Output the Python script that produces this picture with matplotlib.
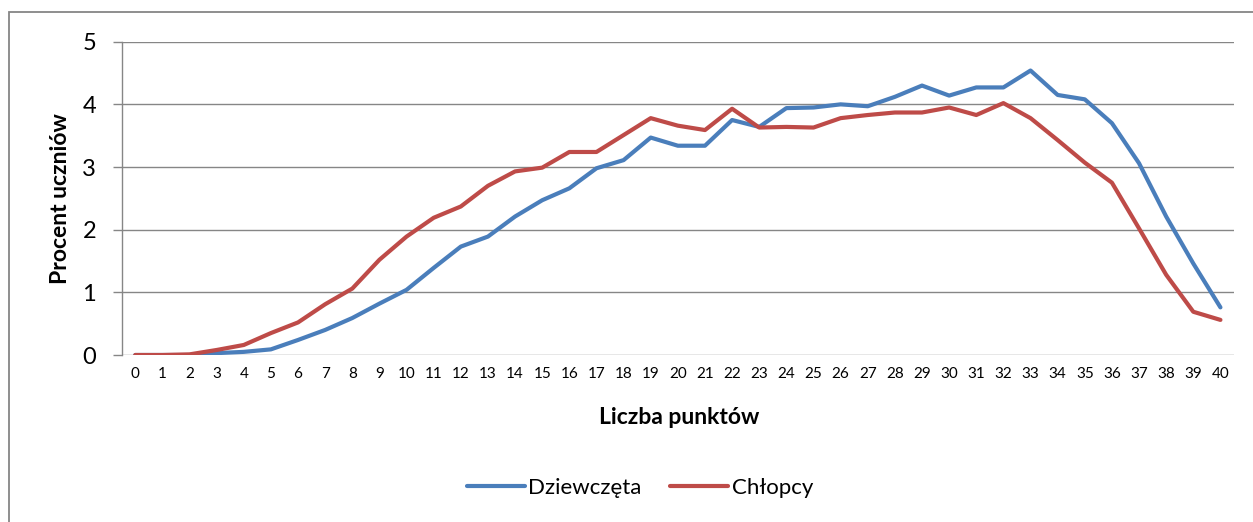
import numpy as np
import matplotlib
matplotlib.use("Agg")
import matplotlib.pyplot as plt
from matplotlib.patches import Rectangle

plt.rcParams['font.family'] = ['Lato', 'DejaVu Sans']

# points 0..40
punkty = list(range(0, 41))
dziewczeta = [0.00, 0.00, 0.00, 0.03, 0.05, 0.09, 0.24, 0.40, 0.59, 0.82,
              1.04, 1.39, 1.73, 1.89, 2.21, 2.47, 2.66, 2.98, 3.11, 3.47,
              3.34, 3.34, 3.75, 3.64, 3.94, 3.95, 4.00, 3.97, 4.12, 4.30,
              4.14, 4.27, 4.27, 4.54, 4.15, 4.08, 3.70, 3.06, 2.21, 1.46,
              0.76]
chlopcy = [0.00, 0.00, 0.01, 0.08, 0.16, 0.35, 0.52, 0.81, 1.06, 1.52,
           1.89, 2.19, 2.37, 2.70, 2.93, 2.99, 3.24, 3.24, 3.51, 3.78,
           3.66, 3.59, 3.93, 3.63, 3.64, 3.63, 3.78, 3.83, 3.87, 3.87,
           3.95, 3.83, 4.02, 3.78, 3.43, 3.07, 2.75, 2.02, 1.28, 0.69,
           0.56]
y_ticks = [0, 1, 2, 3, 4, 5]

blue = '#4A7EBB'
red = '#BE4B48'
grey = '#868686'

fig = plt.figure(figsize=(12.53, 5.22), dpi=100)

# outer chart frame (right/bottom edges fall outside the image)
fig.patches.append(Rectangle((9 / 1253, -0.1), 1.2, 1 - 12 / 522 + 0.1,
                             transform=fig.transFigure, fill=False,
                             edgecolor=grey, linewidth=1.3))

ax = fig.add_axes([121.7 / 1253, 1 - 355 / 522,
                   (1234 - 121.7) / 1253, (355 - 41.7) / 522])

ax.plot(punkty, dziewczeta, color=blue, linewidth=3.0,
        solid_capstyle='round', solid_joinstyle='round', label='Dziewczęta')
ax.plot(punkty, chlopcy, color=red, linewidth=3.0,
        solid_capstyle='round', solid_joinstyle='round', label='Chłopcy')

ax.set_xlim(-0.5, 40.5)
ax.set_ylim(0, 5)
ax.set_xticks(punkty)
ax.set_xticklabels([str(p) for p in punkty], fontsize=11)
ax.set_yticks(y_ticks)
ax.set_yticklabels([str(v) for v in y_ticks], fontsize=17)

ax.grid(axis='y', color=grey, linewidth=1.0)
ax.set_axisbelow(True)
for s in ['top', 'right', 'bottom']:
    ax.spines[s].set_visible(False)
ax.spines['left'].set_color(grey)
ax.spines['left'].set_linewidth(1.0)
ax.tick_params(axis='x', length=0, pad=9)
ax.tick_params(axis='y', length=6.5, color=grey, width=1.0, pad=12)

ax.set_xlabel('Liczba punktów', fontsize=16.5, fontweight='bold')
ax.set_ylabel('Procent uczniów', fontsize=16.5, fontweight='bold')
ax.xaxis.label.set_va('center')
ax.yaxis.label.set_va('center')
ax.xaxis.set_label_coords(0.501, -0.198)
ax.yaxis.set_label_coords(-0.0546, 0.5)

fig.legend(loc='center', bbox_to_anchor=(640 / 1253, 1 - 488 / 522),
           ncol=2, frameon=False, fontsize=16, handlelength=2.6,
           handletextpad=0.15, columnspacing=1.3)

fig.savefig('out.png', dpi=100)
